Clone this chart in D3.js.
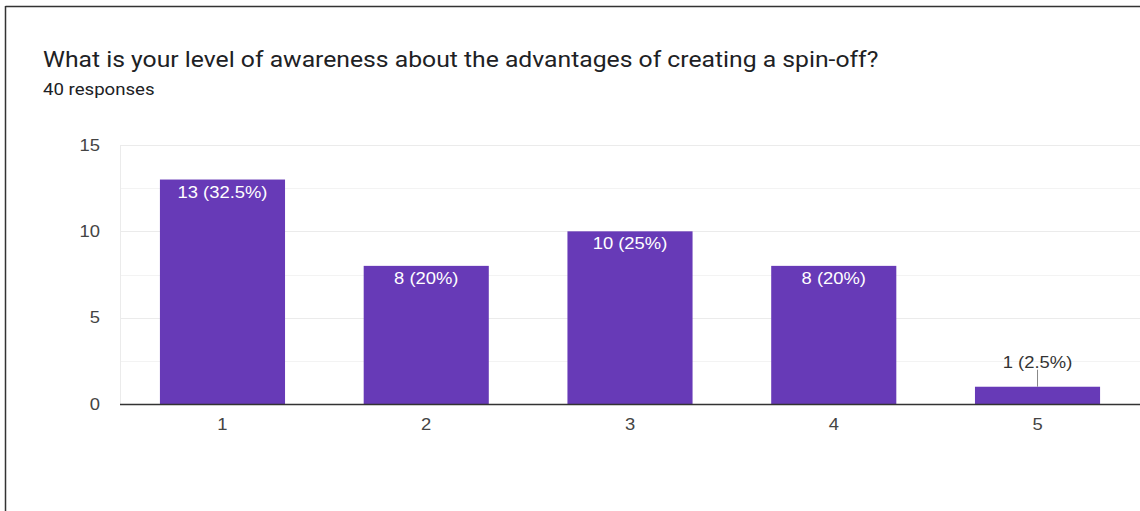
<!DOCTYPE html>
<html>
<head>
<meta charset="utf-8">
<script src="https://cdn.jsdelivr.net/npm/d3@7"></script>
<style>
  html, body { margin: 0; padding: 0; background: #fff; }
  svg { display: block; }
</style>
</head>
<body>
<svg id="chart" width="1140" height="511"></svg>
<script>
// Survey answers on a 1-5 scale and how many respondents picked each
const categories = ["1", "2", "3", "4", "5"];
const counts = [13, 8, 10, 8, 1];
const percents = ["32.5%", "20%", "25%", "20%", "2.5%"];
const yTicks = [0, 5, 10, 15];
const yMinorTicks = [2.5, 7.5, 12.5];
const titleText = "What is your level of awareness about the advantages of creating a spin-off?";
const subtitleText = "40 responses";

const svg = d3.select("#chart");
const W = 1140, H = 511;
const SX = 1.15; // horizontal text stretch
const headFont = "Roboto, Arial, sans-serif";
const chartFont = "'Liberation Sans', Arial, sans-serif";

function addText(parent, x, y, str, size, fill, family, anchor) {
  return parent.append("text")
    .attr("transform", `translate(${x},${y}) scale(${SX},1)`)
    .attr("font-family", family).attr("font-size", size)
    .attr("fill", fill).attr("text-anchor", anchor || "start")
    .text(str);
}

// Card outline (top and left edges visible)
svg.append("line").attr("x1", 5.5).attr("x2", W).attr("y1", 6.5).attr("y2", 6.5)
  .attr("stroke", "#333").attr("stroke-width", 1.5);
svg.append("line").attr("x1", 5.5).attr("x2", 5.5).attr("y1", 6).attr("y2", H)
  .attr("stroke", "#333").attr("stroke-width", 1.5);

addText(svg, 43, 67, titleText, 21.5, "#202124", headFont);
addText(svg, 43, 95, subtitleText, 16.2, "#202124", headFont);

const plot = { left: 120, right: 1140, top: 145, bottom: 404 };

const x = d3.scaleBand().domain(categories)
  .range([120.6, 1139.4]).paddingInner(0.386).paddingOuter(0.193);
const y = d3.scaleLinear().domain([0, 15]).range([plot.bottom, plot.top]);

// Grid
svg.append("g").selectAll("line").data(yMinorTicks).join("line")
  .attr("x1", plot.left).attr("x2", plot.right)
  .attr("y1", d => Math.round(y(d)) + 0.5).attr("y2", d => Math.round(y(d)) + 0.5)
  .attr("stroke", "#f3f3f3").attr("stroke-width", 1);
svg.append("g").selectAll("line").data(yTicks.filter(d => d > 0)).join("line")
  .attr("x1", plot.left).attr("x2", plot.right)
  .attr("y1", d => Math.round(y(d)) + 0.5).attr("y2", d => Math.round(y(d)) + 0.5)
  .attr("stroke", "#ebebeb").attr("stroke-width", 1);
svg.append("line").attr("x1", plot.left + 0.5).attr("x2", plot.left + 0.5)
  .attr("y1", plot.top).attr("y2", plot.bottom)
  .attr("stroke", "#ebebeb");

// Y axis labels
const yAxis = d3.axisLeft(y).tickValues(yTicks).tickSize(0).tickPadding(0);
const yg = svg.append("g").attr("transform", `translate(100,0)`).call(yAxis);
yg.select(".domain").remove();
yg.selectAll("text").attr("font-size", 16).attr("fill", "#444")
  .attr("font-family", chartFont).attr("transform", `scale(${SX},1)`);

// Bars
const data = categories.map((c, i) => ({ c, v: counts[i], p: percents[i] }));
svg.append("g").selectAll("rect").data(data).join("rect")
  .attr("x", d => x(d.c)).attr("width", x.bandwidth())
  .attr("y", d => y(d.v)).attr("height", d => y(0) - y(d.v))
  .attr("fill", "#673ab7");

// Baseline
svg.append("line").attr("x1", plot.left).attr("x2", plot.right)
  .attr("y1", plot.bottom + 0.5).attr("y2", plot.bottom + 0.5)
  .attr("stroke", "#333").attr("stroke-width", 1.5);

// X axis labels
const xAxis = d3.axisBottom(x).tickSize(0).tickPadding(0);
const xg = svg.append("g").attr("transform", `translate(0,${plot.bottom + 14.5})`).call(xAxis);
xg.select(".domain").remove();
xg.selectAll("text").attr("font-size", 16).attr("fill", "#444")
  .attr("font-family", chartFont).attr("transform", `scale(${SX},1)`);

// Value labels: inside tall bars, above short ones with a leader line
const labels = svg.append("g");
data.forEach(d => {
  const cx = x(d.c) + x.bandwidth() / 2;
  const top = y(d.v);
  const txt = `${d.v} (${d.p})`;
  if (y(0) - top > 30) {
    addText(labels, cx, top + 18, txt, 16, "#fff", chartFont, "middle");
  } else {
    labels.append("line").attr("x1", cx).attr("x2", cx)
      .attr("y1", top).attr("y2", top - 17)
      .attr("stroke", "#888").attr("stroke-width", 1);
    addText(labels, cx, top - 19, txt, 16, "#333", chartFont, "middle");
  }
});
</script>
</body>
</html>
